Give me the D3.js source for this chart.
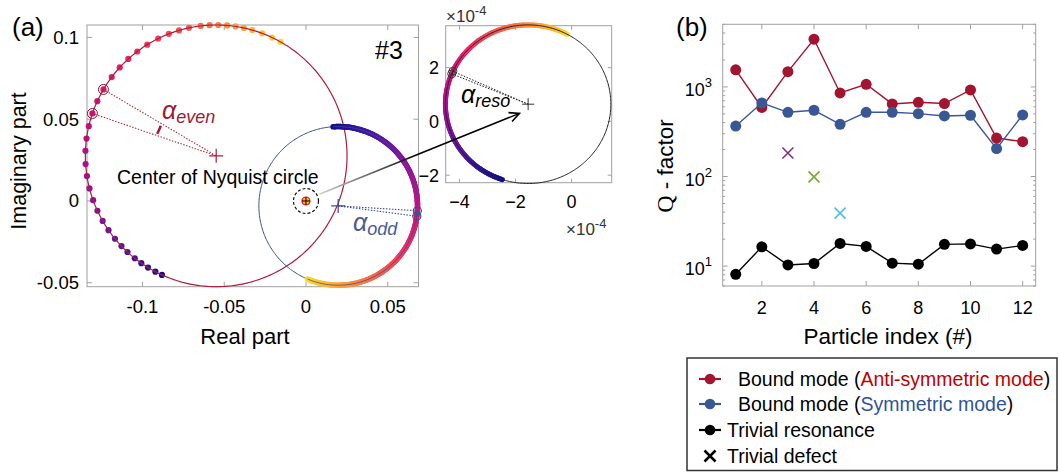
<!DOCTYPE html>
<html><head><meta charset="utf-8">
<script src="https://cdn.jsdelivr.net/npm/d3@7"></script>
<style>body{margin:0;background:#fff} text{font-family:"Liberation Sans",Arial,sans-serif}</style>
</head><body><svg id="c" width="1060" height="473"></svg>
<script>
// ---------------- data ----------------
// Panel (a): Nyquist circles (cx, cy, r) in data units
const antiCircle = [-0.0549, 0.0276, 0.0800];
const symCircle = [0.0197, -0.0030, 0.0485];
const resoCircle = [-1.55e-4, 0.64e-4, 2.95e-4];
// sampled points (angle on circle, degrees) of the anti-symmetric trace
const antiDotAngles = [60.6, 64.7, 69.4, 74.0, 77.8, 81.5, 85.2, 89.1, 92.9, 96.8, 102.0, 106.5, 111.2, 116.3,
  121.8, 127.1, 132.2, 137.5, 143.0, 149.5, 155.3, 161.1, 166.9, 172.4, 177.8, 183.6, 188.9, 194.4, 199.8,
  204.8, 209.8, 214.6, 219.3, 223.6, 227.3, 231.5, 235.1, 238.6, 242.3, 245.5];
const antiMarked = [149.5, 161.1];
const symArc = [93.7, -112.7];
const symMarked = [-3.5, -7.5];
const resoArc = [61.6, 251.9];
const resoMarked = [155.5, 157.5];
const mainXTicks = [-0.1, -0.05, 0, 0.05];
const mainYTicks = [-0.05, 0, 0.05, 0.1];
const insetXTicks = [-4e-4, -2e-4, 0];
const insetYTicks = [-2e-4, 0, 2e-4];
// Panel (b)
const particleIndex = [1, 2, 3, 4, 5, 6, 7, 8, 9, 10, 11, 12];
const qAnti = [1550, 590, 1480, 3410, 857, 1070, 646, 674, 652, 926, 269, 245];
const qSym = [366, 662, 521, 549, 383, 521, 521, 503, 474, 483, 205, 487];
const qTrivial = [8.1, 16.4, 10.3, 10.7, 17.9, 16.6, 10.8, 10.5, 17.5, 17.7, 15.5, 17.0];
const defectIndex = [3, 4, 5];
const defectQ = [183, 99, 39];
const defectColors = ["#7e2f8e", "#77ac30", "#4dbeee"];
const bXTicks = [2, 4, 6, 8, 10, 12];
const bYTicks = [10, 100, 1000];
// frequency colour map (blue -> yellow)
const cmapStops = ["#0a0a8c", "#3a1aa8", "#8c12a0", "#c40a8c", "#e8206a", "#f5504f", "#ff9a3a", "#ffe020"];

// ---------------- setup ----------------
const svg = d3.select("#c");
svg.append("rect").attr("width", 1060).attr("height", 473).attr("fill", "#fff");
const cmap = d3.interpolateRgbBasis(cmapStops);
const AX = "#a0a0a0";
const RED = "#a2142f", BLUE = "#3a5795", REDL = "#9e1b32", BLUEL = "#4a5a96";
const rad = d => d * Math.PI / 180;

function circPts(c, xs, ys, a0, a1, n) {
  const p = [];
  for (let i = 0; i <= n; i++) {
    const a = rad(a0 + (a1 - a0) * i / n);
    p.push([xs(c[0] + c[2] * Math.cos(a)), ys(c[1] + c[2] * Math.sin(a))]);
  }
  return p;
}
function ptAt(c, xs, ys, a) { return [xs(c[0] + c[2] * Math.cos(rad(a))), ys(c[1] + c[2] * Math.sin(rad(a)))]; }
const line = d3.line();

function colorArc(g, c, xs, ys, a0, a1, t0, t1, w) {
  const n = 160;
  const pts = circPts(c, xs, ys, a0, a1, n);
  for (let i = 0; i < n; i++) {
    const t = t0 + (t1 - t0) * (i + 0.5) / n;
    g.append("path").attr("d", line([pts[i], pts[i + 1]]))
      .attr("stroke", cmap(t)).attr("stroke-width", w)
      .attr("stroke-linecap", "round").attr("fill", "none");
  }
}
function boxAxes(g, x0, y0, x1, y1) {
  g.append("rect").attr("x", x0).attr("y", y0).attr("width", x1 - x0).attr("height", y1 - y0)
    .attr("fill", "none").attr("stroke", AX).attr("stroke-width", 1);
}
function ticksX(g, xs, vals, y0, y1, len) {
  vals.forEach(v => {
    const x = xs(v);
    g.append("line").attr("x1", x).attr("x2", x).attr("y1", y1).attr("y2", y1 - len).attr("stroke", AX);
    g.append("line").attr("x1", x).attr("x2", x).attr("y1", y0).attr("y2", y0 + len).attr("stroke", AX);
  });
}
function ticksY(g, ys, vals, x0, x1, len) {
  vals.forEach(v => {
    const y = ys(v);
    g.append("line").attr("x1", x0).attr("x2", x0 + len).attr("y1", y).attr("y2", y).attr("stroke", AX);
    g.append("line").attr("x1", x1).attr("x2", x1 - len).attr("y1", y).attr("y2", y).attr("stroke", AX);
  });
}
const fmt = v => (v < 0 ? "-" : "") + String(Math.abs(+v.toFixed(6)));

// ---------------- Panel (a) main ----------------
const xA = d3.scaleLinear([-0.1339, 0.0688], [87, 418.5]);
const yA = d3.scaleLinear([-0.0524, 0.1076], [286.7, 25]);
const ga = svg.append("g");
boxAxes(ga, 87, 25, 418.5, 286.7);
ticksX(ga, xA, mainXTicks, 25, 286.7, 5);
ticksY(ga, yA, mainYTicks, 87, 418.5, 5);
mainXTicks.forEach(v => ga.append("text").attr("x", xA(v)).attr("y", 313).attr("text-anchor", "middle")
  .attr("font-size", 18.5).text(fmt(v)));
mainYTicks.forEach(v => ga.append("text").attr("x", 79).attr("y", yA(v) + 6.5).attr("text-anchor", "end")
  .attr("font-size", 18.5).text(fmt(v)));
ga.append("text").attr("x", 245).attr("y", 344).attr("text-anchor", "middle").attr("font-size", 22).text("Real part");
ga.append("text").attr("transform", "translate(26,161) rotate(-90)").attr("text-anchor", "middle")
  .attr("font-size", 21.5).text("Imaginary part");
svg.append("text").attr("x", 12).attr("y", 36).attr("font-size", 26).text("(a)");
ga.append("text").attr("x", 375).attr("y", 59).attr("font-size", 25).text("#3");

// anti-symmetric: dots then circle line
const nD = antiDotAngles.length;
antiDotAngles.forEach((a, i) => {
  const p = ptAt(antiCircle, xA, yA, a);
  ga.append("circle").attr("cx", p[0]).attr("cy", p[1]).attr("r", 3.1)
    .attr("fill", cmap(0.98 - 0.96 * i / (nD - 1)));
});
ga.append("path").attr("d", line(circPts(antiCircle, xA, yA, 0, 360, 360))).attr("fill", "none")
  .attr("stroke", "#b01c3c").attr("stroke-width", 1.2);
const cA = [xA(antiCircle[0]), yA(antiCircle[1])];
antiMarked.forEach(a => {
  const p = ptAt(antiCircle, xA, yA, a);
  ga.append("line").attr("x1", p[0]).attr("y1", p[1]).attr("x2", cA[0]).attr("y2", cA[1])
    .attr("stroke", "#b4303f").attr("stroke-width", 1.1).attr("stroke-dasharray", "1.5,1.5");
  ga.append("circle").attr("cx", p[0]).attr("cy", p[1]).attr("r", 5).attr("fill", "none")
    .attr("stroke", "#8c1430").attr("stroke-width", 1);
});
ga.append("path").attr("d", `M${cA[0] - 7},${cA[1]}H${cA[0] + 7}M${cA[0]},${cA[1] - 7}V${cA[1] + 7}`)
  .attr("stroke", "#b01c3c").attr("stroke-width", 1.2);
// angle mark
{
  const r = 63, a0 = rad(151.5), a1 = rad(159.5);
  ga.append("path").attr("d", `M${cA[0] + r * Math.cos(a0)},${cA[1] - r * Math.sin(a0)}A${r},${r} 0 0 1 ${cA[0] + r * Math.cos(a1)},${cA[1] - r * Math.sin(a1)}`)
    .attr("fill", "none").attr("stroke", REDL).attr("stroke-width", 2.5);
}
const tE = ga.append("text").attr("x", 162).attr("y", 119).attr("fill", REDL)
  .attr("font-family", "'DejaVu Serif','Liberation Serif',serif").attr("font-style", "italic");
tE.append("tspan").attr("font-size", 25).text("α");
tE.append("tspan").attr("font-size", 18).attr("dy", 4).text("even");

// symmetric circle
ga.append("path").attr("d", line(circPts(symCircle, xA, yA, 0, 360, 360))).attr("fill", "none")
  .attr("stroke", "#3c4d8f").attr("stroke-width", 1);
colorArc(ga, symCircle, xA, yA, symArc[0], symArc[1], 0.02, 0.98, 5.5);
ga.append("path").attr("d", line(circPts(symCircle, xA, yA, symArc[0], symArc[1], 200))).attr("fill", "none")
  .attr("stroke", "#3c4d8f").attr("stroke-width", 1).attr("opacity", 0.8);
const cS = [xA(symCircle[0]), yA(symCircle[1])];
symMarked.forEach(a => {
  const p = ptAt(symCircle, xA, yA, a);
  ga.append("line").attr("x1", p[0]).attr("y1", p[1]).attr("x2", cS[0]).attr("y2", cS[1])
    .attr("stroke", "#3c4d8f").attr("stroke-width", 1.1).attr("stroke-dasharray", "1.5,1.5");
  ga.append("circle").attr("cx", p[0]).attr("cy", p[1]).attr("r", 4).attr("fill", "none")
    .attr("stroke", "#3c4d8f").attr("stroke-width", 1.2);
});
ga.append("path").attr("d", `M${cS[0] - 7},${cS[1]}H${cS[0] + 7}M${cS[0]},${cS[1] - 7}V${cS[1] + 7}`)
  .attr("stroke", "#3c4d8f").attr("stroke-width", 1.2);
const tO = ga.append("text").attr("x", 353).attr("y", 231).attr("fill", BLUEL)
  .attr("font-family", "'DejaVu Serif','Liberation Serif',serif").attr("font-style", "italic");
tO.append("tspan").attr("font-size", 25).text("α");
tO.append("tspan").attr("font-size", 18).attr("dy", 4).text("odd");

// center of Nyquist circle
const c0 = [xA(0), yA(0)];
ga.append("text").attr("x", 117).attr("y", 184).attr("font-size", 19.5).text("Center of Nyquist circle");
ga.append("circle").attr("cx", c0[0]).attr("cy", c0[1]).attr("r", 12.5).attr("fill", "none")
  .attr("stroke", "#111").attr("stroke-width", 1.2).attr("stroke-dasharray", "3,2");
ga.append("circle").attr("cx", c0[0]).attr("cy", c0[1]).attr("r", 4).attr("fill", "#ffb21a")
  .attr("stroke", "#e3102a").attr("stroke-width", 1.2);
ga.append("path").attr("d", `M${c0[0] - 4},${c0[1]}H${c0[0] + 4}M${c0[0]},${c0[1] - 4}V${c0[1] + 4}`)
  .attr("stroke", "#000").attr("stroke-width", 1);

// ---------------- inset ----------------
const xI = d3.scaleLinear([-4.49e-4, 1.43e-4], [445.7, 611.7]);
const yI = d3.scaleLinear([-2.28e-4, 3.56e-4], [182.7, 25.7]);
const gi = svg.append("g");
gi.append("rect").attr("x", 445.7).attr("y", 25.7).attr("width", 166).attr("height", 157).attr("fill", "#fff");
boxAxes(gi, 445.7, 25.7, 611.7, 182.7);
ticksX(gi, xI, insetXTicks, 25.7, 182.7, 4);
ticksY(gi, yI, insetYTicks, 445.7, 611.7, 4);
insetXTicks.forEach(v => gi.append("text").attr("x", xI(v)).attr("y", 208).attr("text-anchor", "middle")
  .attr("font-size", 18).text(d3.format("d")(v * 1e4)));
insetYTicks.forEach(v => gi.append("text").attr("x", 439).attr("y", yI(v) + 6.5).attr("text-anchor", "end")
  .attr("font-size", 18).text(d3.format("d")(v * 1e4)));
function sci(x, y) {
  const t = gi.append("text").attr("x", x).attr("y", y).attr("font-size", 17).attr("fill", "#333");
  t.append("tspan").text("×10");
  t.append("tspan").attr("font-size", 13).attr("dy", -7).text("-4");
}
sci(446, 22);
sci(566, 235);
colorArc(gi, resoCircle, xI, yI, resoArc[0], resoArc[1], 0.98, 0.02, 5);
gi.append("path").attr("d", line(circPts(resoCircle, xI, yI, 0, 360, 360))).attr("fill", "none")
  .attr("stroke", "#222").attr("stroke-width", 1);
const cR = [xI(resoCircle[0]), yI(resoCircle[1])];
resoMarked.forEach(a => {
  const p = ptAt(resoCircle, xI, yI, a);
  gi.append("line").attr("x1", p[0]).attr("y1", p[1]).attr("x2", cR[0]).attr("y2", cR[1])
    .attr("stroke", "#222").attr("stroke-width", 1).attr("stroke-dasharray", "1.5,1.5");
  gi.append("circle").attr("cx", p[0]).attr("cy", p[1]).attr("r", 4).attr("fill", "none")
    .attr("stroke", "#333").attr("stroke-width", 1);
});
gi.append("path").attr("d", `M${cR[0] - 6},${cR[1]}H${cR[0] + 6}M${cR[0]},${cR[1] - 6}V${cR[1] + 6}`)
  .attr("stroke", "#333").attr("stroke-width", 1);
const tR = gi.append("text").attr("x", 461).attr("y", 103).attr("fill", "#000")
  .attr("font-family", "'DejaVu Serif','Liberation Serif',serif").attr("font-style", "italic");
tR.append("tspan").attr("font-size", 25).text("α");
tR.append("tspan").attr("font-size", 18).attr("dy", 4).text("reso");

// arrow from center of Nyquist circle to inset
{
  const s = [xA(0.0081), yA(0.0041)], e = [xI(-1.86e-4), yI(0.30e-4)];
  const defs = svg.append("defs");
  const gr = defs.append("linearGradient").attr("id", "ag").attr("gradientUnits", "userSpaceOnUse")
    .attr("x1", s[0]).attr("y1", s[1]).attr("x2", e[0]).attr("y2", e[1]);
  gr.append("stop").attr("offset", 0).attr("stop-color", "#d0d0d0");
  gr.append("stop").attr("offset", 0.5).attr("stop-color", "#000");
  svg.append("line").attr("x1", s[0]).attr("y1", s[1]).attr("x2", e[0]).attr("y2", e[1])
    .attr("stroke", "url(#ag)").attr("stroke-width", 1.5);
  const ang = Math.atan2(e[1] - s[1], e[0] - s[0]);
  const L = 11, w = 0.45;
  const p1 = [e[0] - L * Math.cos(ang - w), e[1] - L * Math.sin(ang - w)];
  const p2 = [e[0] - L * Math.cos(ang + w), e[1] - L * Math.sin(ang + w)];
  svg.append("path").attr("d", `M${p1[0]},${p1[1]}L${e[0]},${e[1]}L${p2[0]},${p2[1]}`)
    .attr("fill", "none").attr("stroke", "#000").attr("stroke-width", 1.6);
}

// ---------------- Panel (b) ----------------
const xB = d3.scaleLinear([0.5, 12.5], [722.7, 1035.7]);
const yB = d3.scaleLog([6, 5000], [286, 24.3]);
const gb = svg.append("g");
boxAxes(gb, 722.7, 24.3, 1035.7, 286);
ticksX(gb, xB, bXTicks, 24.3, 286, 5);
ticksY(gb, yB, bYTicks, 722.7, 1035.7, 5);
const minor = [];
[1, 10, 100, 1000].forEach(d => [2, 3, 4, 5, 6, 7, 8, 9].forEach(k => { const v = d * k; if (v >= 6 && v <= 5000) minor.push(v); }));
ticksY(gb, yB, minor, 722.7, 1035.7, 2.5);
bXTicks.forEach(v => gb.append("text").attr("x", xB(v)).attr("y", 314).attr("text-anchor", "middle")
  .attr("font-size", 18).text(v));
bYTicks.forEach(v => {
  const t = gb.append("text").attr("x", 712).attr("y", yB(v) + 9).attr("text-anchor", "end").attr("font-size", 18);
  t.append("tspan").text("10");
  t.append("tspan").attr("font-size", 13).attr("dy", -9).text(String(Math.round(Math.log10(v))));
});
gb.append("text").attr("x", 888).attr("y", 344).attr("text-anchor", "middle").attr("font-size", 22.5).text("Particle index (#)");
{
  const t = gb.append("text").attr("transform", "translate(673,166) rotate(-90)").attr("text-anchor", "middle").attr("font-size", 22.5);
  t.append("tspan").attr("font-family", "'Liberation Serif',serif").attr("font-size", 24).text("Q");
  t.append("tspan").text(" - factor");
}
svg.append("text").attr("x", 676).attr("y", 36).attr("font-size", 26).text("(b)");

function series(vals, color) {
  const pts = particleIndex.map((x, i) => [xB(x), yB(vals[i])]);
  gb.append("path").attr("d", line(pts)).attr("fill", "none").attr("stroke", color).attr("stroke-width", 1.4);
  pts.forEach(p => gb.append("circle").attr("cx", p[0]).attr("cy", p[1]).attr("r", 5.5).attr("fill", color));
}
series(qAnti, RED);
series(qSym, BLUE);
series(qTrivial, "#000");
defectIndex.forEach((x, i) => {
  const cx = xB(x), cy = yB(defectQ[i]), s = 5.5;
  gb.append("path").attr("d", `M${cx - s},${cy - s}L${cx + s},${cy + s}M${cx - s},${cy + s}L${cx + s},${cy - s}`)
    .attr("stroke", defectColors[i]).attr("stroke-width", 1.6);
});

// ---------------- legend ----------------
const gl = svg.append("g");
gl.append("rect").attr("x", 687).attr("y", 358).attr("width", 370).attr("height", 112.5)
  .attr("fill", "#fff").attr("stroke", "#333").attr("stroke-width", 1.5);
const legRows = [
  { y: 379, color: RED, parts: [["Bound mode (", "#000"], ["Anti-symmetric mode", "#c00000"], [")", "#000"]], tx: 738 },
  { y: 404, color: BLUE, parts: [["Bound mode (", "#000"], ["Symmetric mode", "#2f5597"], [")", "#000"]], tx: 738 },
  { y: 430, color: "#000", parts: [["Trivial resonance", "#000"]], tx: 727 },
];
legRows.forEach(r => {
  gl.append("line").attr("x1", 699).attr("x2", 721).attr("y1", r.y).attr("y2", r.y).attr("stroke", r.color).attr("stroke-width", 2.2);
  gl.append("circle").attr("cx", 710).attr("cy", r.y).attr("r", 5.3).attr("fill", r.color);
  const t = gl.append("text").attr("x", r.tx).attr("y", r.y + 7).attr("font-size", 19.5);
  r.parts.forEach(p => t.append("tspan").attr("fill", p[1]).text(p[0]));
});
{
  const cx = 710, cy = 456, s = 5.5;
  gl.append("path").attr("d", `M${cx - s},${cy - s}L${cx + s},${cy + s}M${cx - s},${cy + s}L${cx + s},${cy - s}`)
    .attr("stroke", "#000").attr("stroke-width", 2.5);
  gl.append("text").attr("x", 727).attr("y", 463).attr("font-size", 19.5).text("Trivial defect");
}
</script></body></html>
